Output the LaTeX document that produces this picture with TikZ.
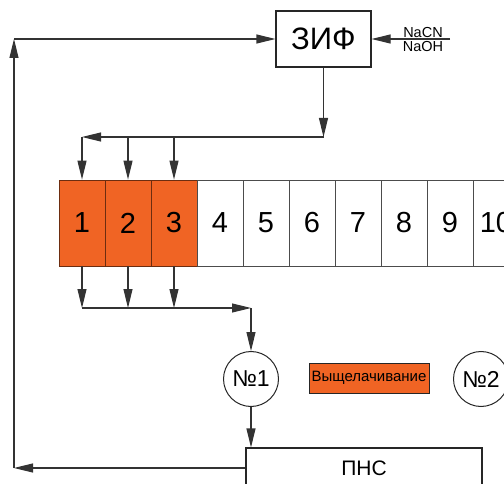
\documentclass[tikz,border=0pt]{standalone}
\usepackage{fontspec}
\setmainfont{Liberation Sans}
\usetikzlibrary{arrows.meta}
\definecolor{leach}{RGB}{240,100,36}

\begin{document}
\begin{tikzpicture}[x=1pt,y=-1pt,
  line/.style={draw=black!80,line width=1.1pt},
  arr/.style={line,-{Triangle[length=19pt,width=9pt]}},
  cell/.style={draw=black!70,line width=0.8pt,minimum width=46pt,minimum height=86pt,inner sep=0pt,font=\fontsize{29}{32}\selectfont},
  hot/.style={cell,fill=leach,draw=black!55!leach},
  box/.style={draw=black!85,line width=1.1pt,inner sep=0pt},
  tank/.style={circle,draw=black!85,line width=1pt,minimum size=55pt,inner sep=0pt,font=\fontsize{23}{26}\selectfont}]
\useasboundingbox (0,0) rectangle (504,484);
\clip (0,0) rectangle (504,484);
\node[box,minimum width=95pt,minimum height=56pt,font=\fontsize{31}{34}\selectfont] (zif) at (323.5,39) {ЗИФ};
\node[font=\fontsize{14.5}{16}\selectfont,inner sep=1pt,above] (nacn) at (423,39) {NaCN};
\node[font=\fontsize{14.5}{16}\selectfont,inner sep=1pt,below] (naoh) at (423,40) {NaOH};
\coordinate (feed) at (450,39);
\draw[arr] (feed) -- (zif.east);
\foreach \i in {1,2,3} \node[hot] (c\i) at ({59+46*(\i-0.5)},223) {\i};
\foreach \i in {4,...,11} \node[cell] (c\i) at ({59+46*(\i-0.5)},223) {\i};
\coordinate (split) at (323.5,137);
\coordinate (feed1) at (82,137);
\draw[arr] (zif.south) -- (split);
\draw[arr] (split) -- (feed1);
\foreach \i in {1,2,3} \draw[arr] (c\i.north |- split) -- (c\i.north);
\node[tank] (n1) at (251,379) {№1};
\node[tank] (n2) at (481,379) {№2};
\node[box,fill=leach,line width=0.8pt,minimum width=120pt,minimum height=30pt,font=\fontsize{15}{17}\selectfont] (leg) at (369,378) {Выщелачивание};
\coordinate (col) at (82,308);
\coordinate (turn) at (251,308);
\foreach \i in {1,2,3} \draw[arr] (c\i.south) -- (c\i.south |- col);
\draw[arr] (col) -- (turn);
\draw[arr] (turn) -- (n1.north);
\node[box,minimum width=236pt,minimum height=40pt,font=\fontsize{21}{24}\selectfont] (pns) at (364,468) {ПНС};
\draw[arr] (n1.south) -- (n1.south |- pns.north);
\coordinate (back) at (14,468);
\coordinate (up) at (14,39);
\draw[arr] (pns.west) -- (back);
\draw[arr] (back) -- (up);
\draw[arr] (up) -- (zif.west);
\end{tikzpicture}
\end{document}
